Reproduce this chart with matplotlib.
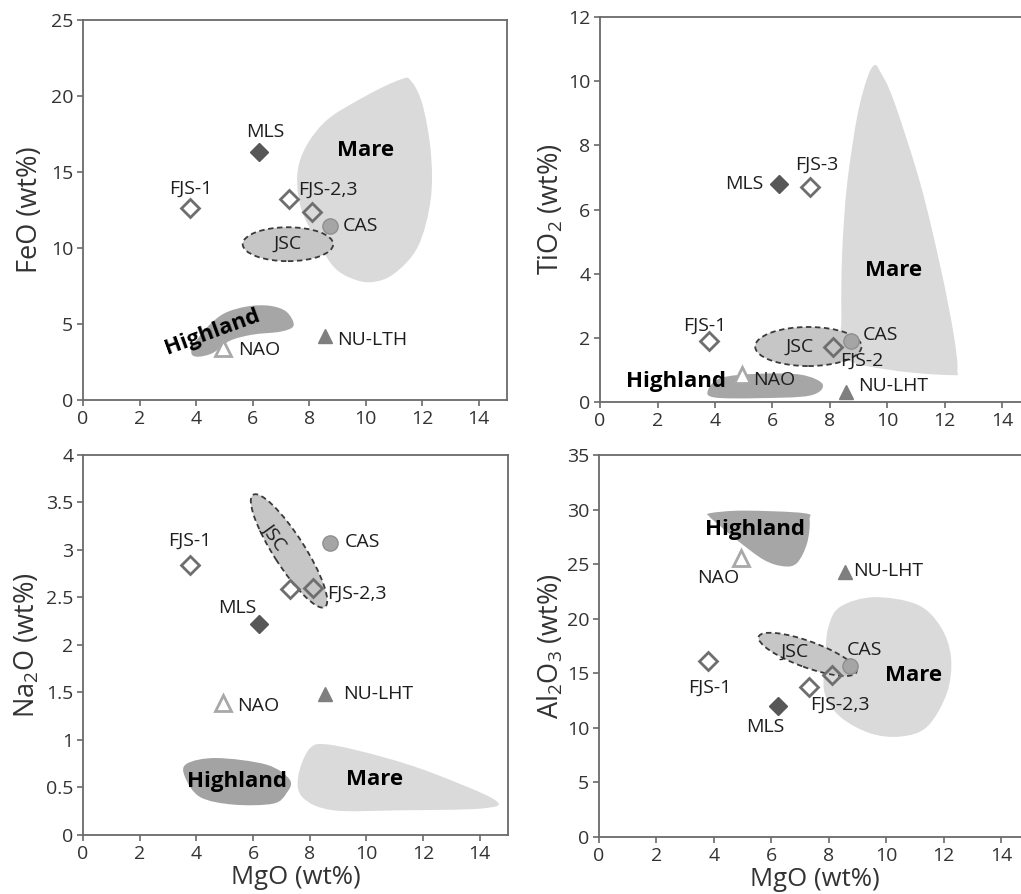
import numpy as np
import matplotlib
matplotlib.use('Agg')
import matplotlib.pyplot as plt
from matplotlib.patches import Ellipse, PathPatch
from matplotlib.path import Path
from matplotlib.transforms import Affine2D

plt.rcParams['font.family'] = ['Open Sans', 'DejaVu Sans']
plt.rcParams['mathtext.fontset'] = 'custom'
plt.rcParams['mathtext.rm'] = 'Open Sans'

# ---------------------------------------------------------------------------
# sample compositions (wt%), same order everywhere
# ---------------------------------------------------------------------------
samples = ['FJS-1', 'FJS-2', 'FJS-3', 'MLS', 'CAS', 'NAO', 'NU-LHT']
mgo = [3.78, 8.1, 7.3, 6.22, 8.72, 4.95, 8.55]
feo = [12.6, 12.4, 13.2, 16.3, 11.45, 3.4, 4.2]
tio2 = [1.9, 1.7, 6.7, 6.8, 1.9, 0.84, 0.3]
na2o = [2.84, 2.6, 2.59, 2.22, 3.07, 1.39, 1.48]
al2o3 = [16.1, 14.8, 13.75, 12.0, 15.7, 25.6, 24.3]

# lunar fields (outline points, MgO / oxide)
mare_feo = [(11.25, 21.1), (10.0, 20.0), (8.5, 18.2), (7.65, 15.6), (7.7, 12.7), (8.4, 10.1),
            (8.9, 8.7), (9.5, 8.0), (10.2, 7.75), (11.0, 8.3), (11.85, 10.1), (12.3, 13.2),
            (12.3, 16.4), (12.0, 19.5), (11.6, 21.0)]
high_feo = [(3.85, 3.0), (3.9, 3.6), (4.4, 4.8), (5.0, 5.7), (5.8, 6.15), (6.6, 6.2), (7.2, 5.8),
            (7.45, 4.9), (7.0, 4.5), (6.0, 4.3), (5.2, 3.9), (4.6, 3.1), (4.1, 2.85)]
mare_tio2 = [(9.55, 10.5), (9.3, 10.1), (8.95, 8.9), (8.6, 6.8), (8.43, 4.7), (8.4, 2.65),
             (8.5, 1.4), (10.1, 1.0), (12.2, 0.84), (12.44, 1.0), (12.3, 2.15), (11.85, 4.2),
             (11.15, 6.8), (10.22, 9.4), (9.75, 10.3)]
high_tio2 = [(3.75, 0.35), (4.2, 0.75), (5.5, 0.88), (7.0, 0.85), (7.75, 0.55), (7.3, 0.2),
             (5.5, 0.12), (4.0, 0.14)]
mare_na2o = [(7.59, 0.61), (8.0, 0.91), (8.71, 0.95), (10.59, 0.82), (12.35, 0.65), (14.53, 0.37),
             (14.11, 0.28), (11.18, 0.26), (8.83, 0.26), (7.77, 0.39)]
high_na2o = [(3.66, 0.75), (4.71, 0.81), (6.48, 0.74), (7.3, 0.58), (7.18, 0.44), (6.71, 0.33),
             (5.3, 0.32), (4.13, 0.4), (3.6, 0.61)]
mare_al2o3 = [(9.56, 21.97), (8.4, 21.1), (7.99, 19.3), (7.87, 16.5), (7.85, 13.2), (8.4, 11.0),
              (9.44, 9.5), (10.49, 9.2), (11.42, 10.1), (12.11, 13.2), (12.25, 16.5),
              (11.88, 19.3), (11.07, 21.3)]
high_al2o3 = [(3.87, 29.67), (5.03, 29.9), (7.12, 29.67), (7.33, 29.05), (7.24, 26.9), (6.89, 25.1),
              (6.42, 24.8), (5.73, 25.4), (4.8, 27.2), (4.1, 28.75), (3.84, 29.36)]

# JSC-1 field: centre (MgO, oxide), width, height (MgO units, on screen), tilt
jsc_feo = (7.25, 10.25, 3.2, 1.2, 0)
jsc_tio2 = (7.25, 1.73, 3.7, 1.36, 0)
jsc_na2o = (7.27, 2.99, 4.7, 1.1, -57.4)
jsc_al2o3 = (7.26, 16.73, 3.62, 0.91, -20)

styles = {
    'FJS-1': dict(marker='D', ms=9.5, mfc='none', mec='#6e6e6e', mew=2),
    'FJS-2': dict(marker='D', ms=9.5, mfc='none', mec='#6e6e6e', mew=2),
    'FJS-3': dict(marker='D', ms=9.5, mfc='none', mec='#6e6e6e', mew=2),
    'MLS': dict(marker='D', ms=9.5, mfc='#575757', mec='#575757', mew=1),
    'CAS': dict(marker='o', ms=11, mfc='#a5a5a5', mec='#8f8f8f', mew=1),
    'NAO': dict(marker='^', ms=11, mfc='white', mec='#a8a8a8', mew=2),
    'NU-LHT': dict(marker='^', ms=10, mfc='#7f7f7f', mec='#7f7f7f', mew=1),
}

W, H = 1021, 894
fig = plt.figure(figsize=(W / 100, H / 100), dpi=100)


def blob(ax, pts, color, z):
    # closed smooth outline through the points (Catmull-Rom as cubic beziers)
    p = np.asarray(pts, float)
    n = len(p)
    verts = [p[0]]
    codes = [Path.MOVETO]
    for i in range(n):
        p0, p1, p2, p3 = p[i - 1], p[i], p[(i + 1) % n], p[(i + 2) % n]
        verts += [p1 + (p2 - p0) / 6, p2 - (p3 - p1) / 6, p2]
        codes += [Path.CURVE4] * 3
    ax.add_patch(PathPatch(Path(verts, codes), fc=color, ec='none', zorder=z))


def jsc(ax, e):
    cx, cy, w, h, ang = e
    pos = ax.get_position()
    x0, x1 = ax.get_xlim()
    y0, y1 = ax.get_ylim()
    kx = pos.width * W / (x1 - x0)
    ky = pos.height * H / (y1 - y0)
    r = kx / ky
    tr = Affine2D().scale(1, r) + ax.transData
    ax.add_patch(Ellipse((cx, cy / r), w, h, angle=ang, transform=tr,
                         fc='#c6c6c6', ec='#3a3a3a', ls=(0, (3, 2)), lw=1.3, zorder=3))


def setup(rect, ymax, ystep, ylabel, xlabel, ylab_dx):
    ax = fig.add_axes(rect)
    ax.set_xlim(0, 15)
    ax.set_ylim(0, ymax)
    ax.set_xticks(np.arange(0, 15, 2))
    ax.set_yticks(np.arange(0, ymax + 0.001, ystep))
    ax.yaxis.set_major_formatter(matplotlib.ticker.FormatStrFormatter('%g'))
    for s in ax.spines.values():
        s.set_color('#6a6a6a')
        s.set_linewidth(1.3)
    ax.tick_params(direction='out', length=4, width=1.2, color='#6a6a6a',
                   labelsize=14, labelcolor='#333333', pad=3)
    ax.set_ylabel(ylabel, fontsize=19.5, color='#333333', va='center')
    ax.yaxis.set_label_coords(-ylab_dx / (rect[2] * W), 0.5)
    if xlabel:
        ax.set_xlabel(xlabel, fontsize=18.5, color='#333333', va='center')
        ax.xaxis.set_label_coords(0.5, -43 / (rect[3] * H))
    return ax


def points(ax, ys):
    for name, x, y in zip(samples, mgo, ys):
        ax.plot(x, y, ls='none', zorder=5, **styles[name])


def lab(ax, x, y, s, ha='center', bold=False, size=14, rot=0):
    ax.text(x, y, s, ha=ha, va='center', rotation=rot, rotation_mode='anchor',
            fontsize=16 if bold else size, fontweight='bold' if bold else 'normal',
            color='black' if bold else '#1e1e1e', zorder=6)


# ---------------------------------------------------------------- FeO
ax1 = setup([0.0813, 0.5526, 0.4153, 0.4250], 25, 5, 'FeO (wt%)', None, 53)
blob(ax1, mare_feo, '#dadada', 1)
blob(ax1, high_feo, '#a6a6a6', 2)
jsc(ax1, jsc_feo)
points(ax1, feo)
lab(ax1, 6.45, 17.6, 'MLS')
lab(ax1, 3.8, 13.9, 'FJS-1')
lab(ax1, 8.65, 13.8, 'FJS-2,3')
lab(ax1, 9.2, 11.45, 'CAS', ha='left')
lab(ax1, 5.5, 3.3, 'NAO', ha='left')
lab(ax1, 9.0, 3.95, 'NU-LTH', ha='left')
lab(ax1, 7.25, 10.25, 'JSC')
lab(ax1, 10.0, 16.4, 'Mare', bold=True)
lab(ax1, 4.56, 4.5, 'Highland', bold=True, rot=20)

# ---------------------------------------------------------------- TiO2
ax2 = setup([0.5877, 0.5503, 0.4221, 0.4307], 12, 2, 'TiO$_2$ (wt%)', None, 49)
blob(ax2, mare_tio2, '#dadada', 1)
blob(ax2, high_tio2, '#a6a6a6', 2)
jsc(ax2, jsc_tio2)
points(ax2, tio2)
lab(ax2, 5.7, 6.8, 'MLS', ha='right')
lab(ax2, 7.55, 7.4, 'FJS-3')
lab(ax2, 3.66, 2.37, 'FJS-1')
lab(ax2, 9.15, 2.1, 'CAS', ha='left')
lab(ax2, 8.35, 1.3, 'FJS-2', ha='left')
lab(ax2, 5.33, 0.7, 'NAO', ha='left')
lab(ax2, 9.0, 0.5, 'NU-LHT', ha='left')
lab(ax2, 6.93, 1.72, 'JSC')
lab(ax2, 10.2, 4.1, 'Mare', bold=True)
lab(ax2, 2.65, 0.65, 'Highland', bold=True)

# ---------------------------------------------------------------- Na2O
ax3 = setup([0.0813, 0.0660, 0.4163, 0.4251], 4, 0.5, 'Na$_2$O (wt%)', 'MgO (wt%)', 56)
blob(ax3, mare_na2o, '#dadada', 1)
blob(ax3, high_na2o, '#a3a3a3', 2)
jsc(ax3, jsc_na2o)
points(ax3, na2o)
lab(ax3, 3.77, 3.1, 'FJS-1')
lab(ax3, 9.24, 3.08, 'CAS', ha='left')
lab(ax3, 8.6, 2.54, 'FJS-2,3', ha='left')
lab(ax3, 5.45, 2.39, 'MLS')
lab(ax3, 5.45, 1.36, 'NAO', ha='left')
lab(ax3, 9.18, 1.48, 'NU-LHT', ha='left')
lab(ax3, 6.77, 3.14, 'JSC', rot=-54)
lab(ax3, 5.45, 0.56, 'Highland', bold=True)
lab(ax3, 10.3, 0.58, 'Mare', bold=True)

# ---------------------------------------------------------------- Al2O3
ax4 = setup([0.5867, 0.0638, 0.4221, 0.4273], 35, 5, 'Al$_2$O$_3$ (wt%)', 'MgO (wt%)', 48)
blob(ax4, mare_al2o3, '#dadada', 1)
blob(ax4, high_al2o3, '#a6a6a6', 2)
jsc(ax4, jsc_al2o3)
points(ax4, al2o3)
lab(ax4, 5.44, 28.2, 'Highland', bold=True)
lab(ax4, 4.15, 23.7, 'NAO')
lab(ax4, 8.85, 24.4, 'NU-LHT', ha='left')
lab(ax4, 3.87, 13.7, 'FJS-1')
lab(ax4, 9.23, 17.1, 'CAS')
lab(ax4, 6.8, 16.95, 'JSC')
lab(ax4, 10.94, 14.75, 'Mare', bold=True)
lab(ax4, 8.4, 12.1, 'FJS-2,3')
lab(ax4, 5.78, 10.1, 'MLS')

fig.savefig('out.png', dpi=100)
